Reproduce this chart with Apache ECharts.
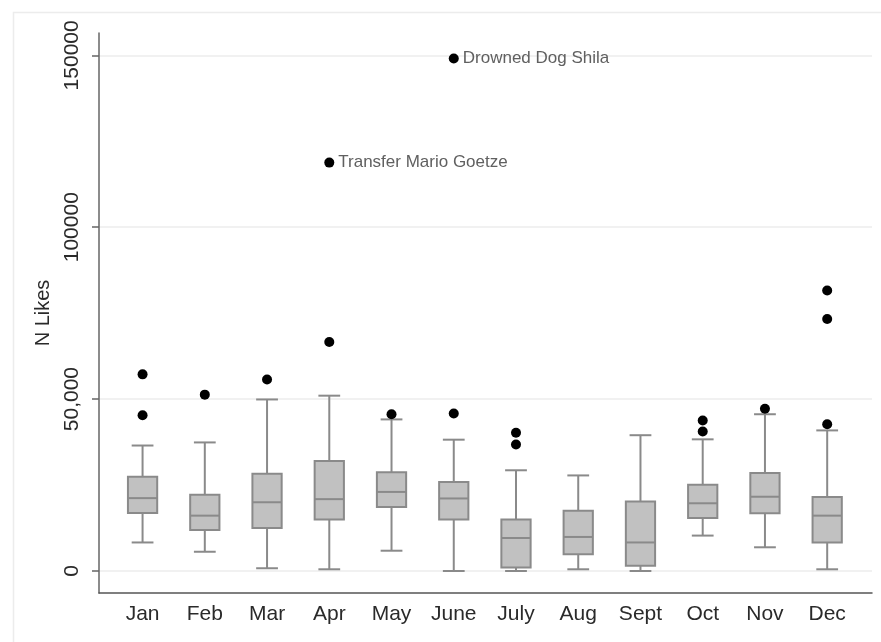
<!DOCTYPE html>
<html>
<head>
<meta charset="utf-8">
<script src="https://cdn.jsdelivr.net/npm/echarts@6/dist/echarts.min.js"></script>
<style>
  html, body { margin: 0; padding: 0; background: #ffffff; }
  #chart { width: 881px; height: 642px; }
</style>
</head>
<body>
<div id="chart"></div>
<script>
// Monthly distribution of likes per post
const months = ['Jan', 'Feb', 'Mar', 'Apr', 'May', 'June', 'July', 'Aug', 'Sept', 'Oct', 'Nov', 'Dec'];
const lowerWhisker = [8300, 5600, 800, 500, 5900, 0, 0, 500, 0, 10300, 6900, 500];
const quartile1    = [16900, 11900, 12500, 15000, 18600, 15000, 1000, 4900, 1500, 15400, 16800, 8300];
const medians      = [21200, 16100, 20000, 20900, 23000, 21100, 9600, 9900, 8300, 19700, 21600, 16100];
const quartile3    = [27400, 22200, 28300, 32000, 28700, 25900, 15000, 17500, 20200, 25100, 28500, 21500];
const upperWhisker = [36500, 37400, 49900, 51000, 44100, 38200, 29300, 27800, 39500, 38300, 45600, 40900];

// Outliers: month number (1 = Jan) and likes
const outlierMonth = [1, 1, 2, 3, 4, 5, 6, 7, 7, 10, 10, 11, 12, 12, 12];
const outlierLikes = [57200, 45300, 51300, 55700, 66600, 45600, 45800, 40200, 36800, 43800, 40600, 47200, 81600, 73300, 42700];

// Named outliers
const namedMonth = [4, 6];
const namedLikes = [118800, 149100];
const namedText  = ['Transfer Mario Goetze', 'Drowned Dog Shila'];

// Y axis ticks and their printed labels
const yTickValues = [0, 50000, 100000, 150000];
const yTickLabels = ['0', '50,000', '100000', '150000'];

const BOX_WIDTH = 0.47;   // in month units
const CAP_WIDTH = 0.35;
const BOX_LINE = '#8a8a8a';
const BOX_FILL = '#c1c1c1';

const boxData = months.map((m, i) => [i + 1, lowerWhisker[i], quartile1[i], medians[i], quartile3[i], upperWhisker[i]]);
const outlierData = outlierMonth.map((m, i) => [m, outlierLikes[i]]);
const namedData = namedMonth.map((m, i) => ({ value: [m, namedLikes[i]], name: namedText[i] }));

function renderBox(params, api) {
  const x = api.value(0);
  const pLow = api.coord([x, api.value(1)]);
  const pQ1 = api.coord([x, api.value(2)]);
  const pMed = api.coord([x, api.value(3)]);
  const pQ3 = api.coord([x, api.value(4)]);
  const pHigh = api.coord([x, api.value(5)]);
  const halfBox = api.size([BOX_WIDTH, 0])[0] / 2;
  const halfCap = api.size([CAP_WIDTH, 0])[0] / 2;
  const cx = pMed[0];
  const lineStyle = { stroke: BOX_LINE, lineWidth: 2, fill: null };
  return {
    type: 'group',
    children: [
      { type: 'line', shape: { x1: cx, y1: pHigh[1], x2: cx, y2: pQ3[1] }, style: lineStyle },
      { type: 'line', shape: { x1: cx, y1: pQ1[1], x2: cx, y2: pLow[1] }, style: lineStyle },
      { type: 'line', shape: { x1: cx - halfCap, y1: pHigh[1], x2: cx + halfCap, y2: pHigh[1] }, style: lineStyle },
      { type: 'line', shape: { x1: cx - halfCap, y1: pLow[1], x2: cx + halfCap, y2: pLow[1] }, style: lineStyle },
      { type: 'rect', shape: { x: cx - halfBox, y: pQ3[1], width: halfBox * 2, height: pQ1[1] - pQ3[1] },
        style: { fill: BOX_FILL, stroke: BOX_LINE, lineWidth: 2 } },
      { type: 'line', shape: { x1: cx - halfBox, y1: pMed[1], x2: cx + halfBox, y2: pMed[1] }, style: lineStyle }
    ]
  };
}

const chart = echarts.init(document.getElementById('chart'), null, { renderer: 'canvas' });
const FONT = '"Liberation Sans", Arial, sans-serif';

chart.setOption({
  animation: false,
  backgroundColor: '#ffffff',
  textStyle: { fontFamily: FONT },
  graphic: [{
    type: 'rect',
    left: 11, top: 10,
    shape: { width: 900, height: 700 },
    style: { fill: null, stroke: '#ececec', lineWidth: 1.5 },
    silent: true,
    z: -10
  }],
  grid: { left: 99, right: 9, top: 33, bottom: 49, containLabel: false },
  xAxis: {
    type: 'value',
    min: 0.3,
    max: 12.72,
    axisLine: { show: true, onZero: false, lineStyle: { color: '#555', width: 1.5 } },
    axisTick: { show: false, customValues: [1, 2, 3, 4, 5, 6, 7, 8, 9, 10, 11, 12] },
    splitLine: { show: false },
    axisLabel: {
      customValues: [1, 2, 3, 4, 5, 6, 7, 8, 9, 10, 11, 12],
      formatter: v => months[Math.round(v) - 1],
      fontSize: 21, color: '#2a2a2a', margin: 11, fontFamily: FONT
    }
  },
  yAxis: {
    type: 'value',
    min: -6400,
    max: 156500,
    name: 'N Likes',
    nameLocation: 'middle',
    nameRotate: 90,
    nameGap: 46,
    nameTextStyle: { fontSize: 20, color: '#2a2a2a', fontFamily: FONT },
    axisLine: { show: true, lineStyle: { color: '#666', width: 1.5 } },
    axisTick: { show: true, inside: false, length: 7, customValues: yTickValues, lineStyle: { color: '#666', width: 1.5 } },
    splitLine: { show: true, lineStyle: { color: '#ececec', width: 1.5 } },
    axisLabel: {
      customValues: yTickValues,
      rotate: 90,
      formatter: v => yTickLabels[yTickValues.indexOf(v)],
      fontSize: 21, color: '#2a2a2a', margin: 16, fontFamily: FONT
    }
  },
  series: [
    {
      type: 'custom',
      renderItem: renderBox,
      data: boxData,
      encode: { x: 0, y: [1, 2, 3, 4, 5] },
      z: 2
    },
    {
      type: 'scatter',
      data: outlierData,
      symbol: 'circle',
      symbolSize: 10,
      itemStyle: { color: '#000', opacity: 1 },
      z: 3
    },
    {
      type: 'scatter',
      data: namedData,
      symbol: 'circle',
      symbolSize: 10,
      itemStyle: { color: '#000', opacity: 1 },
      label: {
        show: true, position: 'right', distance: 4,
        formatter: p => p.name,
        fontSize: 17, color: '#606060', fontFamily: FONT
      },
      z: 3
    }
  ]
});
</script>
</body>
</html>
